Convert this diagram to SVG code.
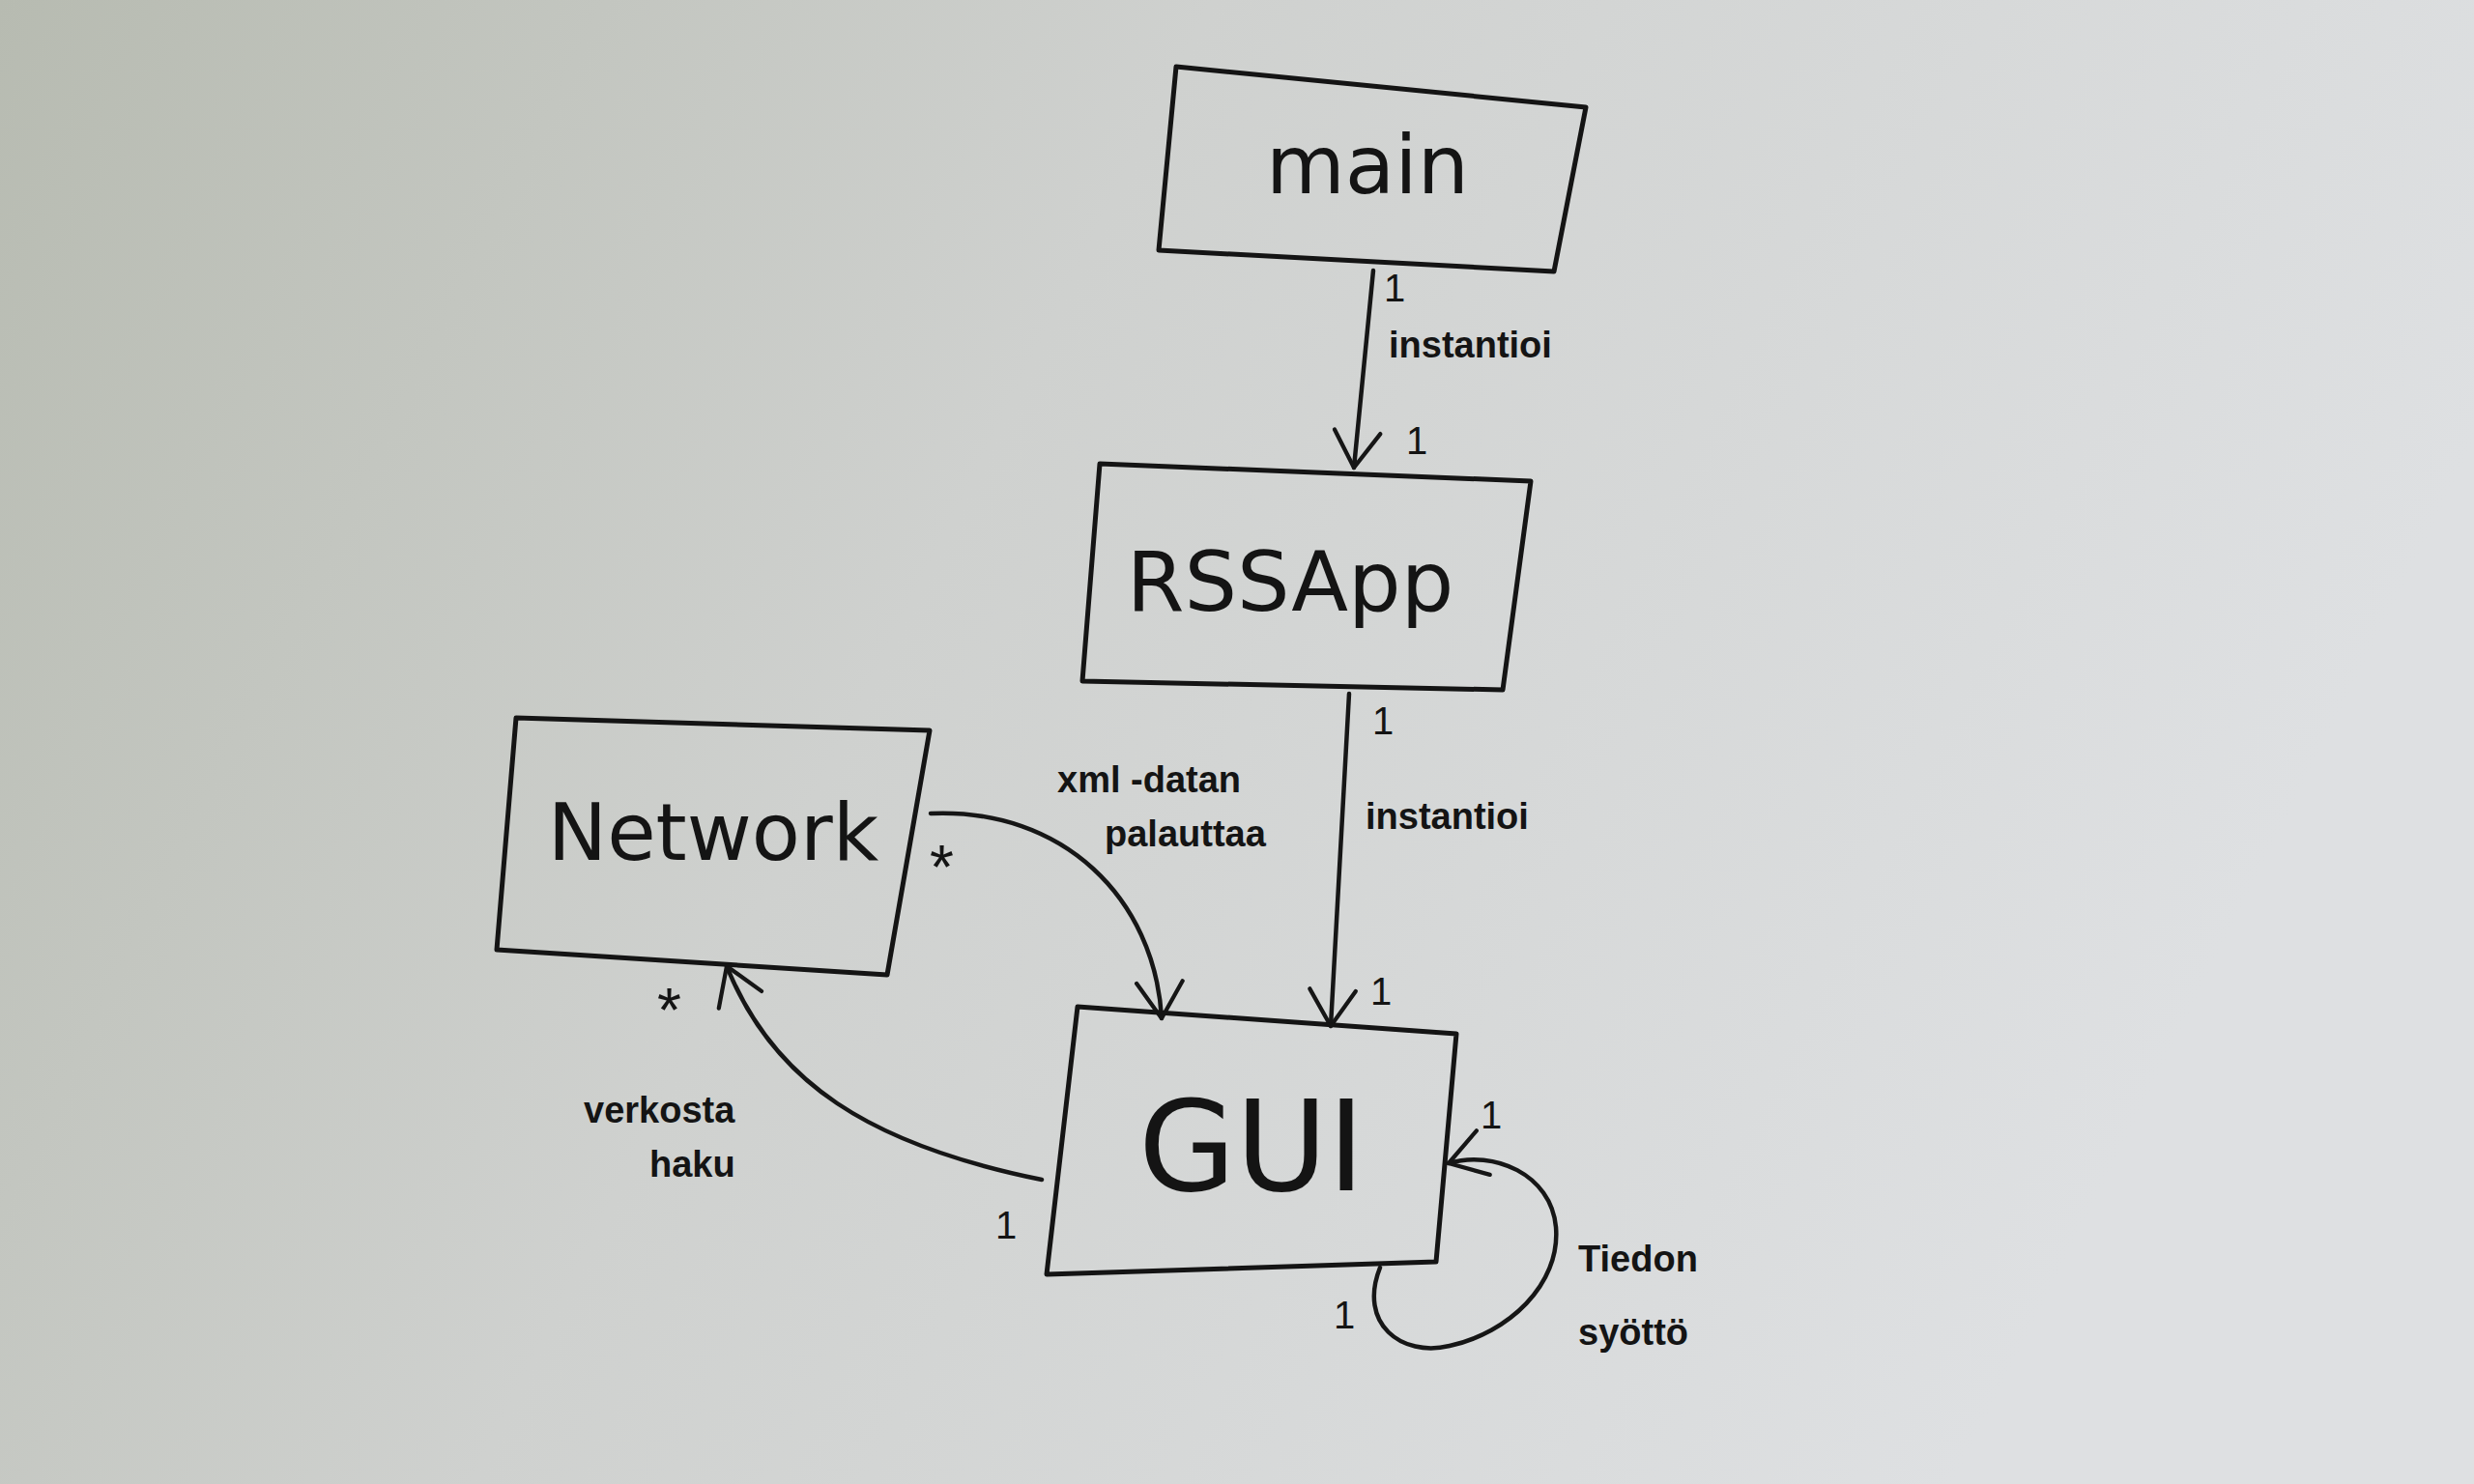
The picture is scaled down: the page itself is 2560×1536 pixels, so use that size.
<svg xmlns="http://www.w3.org/2000/svg" width="2560" height="1536" viewBox="0 0 2560 1536">
<defs>
<linearGradient id="paper" x1="0" y1="0" x2="1" y2="0.3">
<stop offset="0" stop-color="#b7bbb1"/>
<stop offset="0.45" stop-color="#cfd1cf"/>
<stop offset="1" stop-color="#dee0e2"/>
</linearGradient>
<marker id="open" viewBox="0 0 20 20" refX="18" refY="10" markerWidth="17" markerHeight="17" markerUnits="userSpaceOnUse" orient="auto" overflow="visible">
<path d="M -26 -18 L 18 10 L -26 38" fill="none" stroke="#161616" stroke-width="5" stroke-linecap="round" stroke-linejoin="round"/>
</marker>
<style>
.box{fill:none;stroke:#141414;stroke-width:5;stroke-linejoin:round}
.edge{fill:none;stroke:#161616;stroke-width:4.5;stroke-linecap:round}
.name{font-family:"DejaVu Sans","Liberation Sans",sans-serif;fill:#141414;text-anchor:middle}
.lbl{font-family:"Liberation Sans","DejaVu Sans",sans-serif;font-size:38px;font-weight:bold;fill:#141414}
.mult{font-family:"Liberation Sans","DejaVu Sans",sans-serif;font-size:40px;fill:#141414}
.star{font-family:"Liberation Sans","DejaVu Sans",sans-serif;font-size:64px;fill:#141414}
</style>
</defs>
<rect x="0" y="0" width="2560" height="1536" fill="url(#paper)"/>

<g id="connectors">
<g id="e-main-rssapp">
<path class="edge" d="M 1421 280 L 1401 484" marker-end="url(#open)"/>
<text class="mult" x="1432" y="312">1</text>
<text class="mult" x="1455" y="470">1</text>
<text class="lbl" x="1437" y="370">instantioi</text>
</g>
<g id="e-rssapp-gui">
<path class="edge" d="M 1396 718 L 1377 1062" marker-end="url(#open)"/>
<text class="mult" x="1420" y="760">1</text>
<text class="mult" x="1418" y="1040">1</text>
<text class="lbl" x="1413" y="858">instantioi</text>
</g>
<g id="e-network-gui">
<path class="edge" d="M 963 842 C 1100 836, 1195 930, 1202 1054" marker-end="url(#open)"/>
<text class="star" x="962" y="920">*</text>
<text class="lbl" x="1094" y="820">xml -datan</text>
<text class="lbl" x="1143" y="876">palauttaa</text>
</g>
<g id="e-gui-network">
<path class="edge" d="M 1078 1221 C 900 1185, 800 1120, 752 1000" marker-end="url(#open)"/>
<text class="star" x="680" y="1068">*</text>
<text class="mult" x="1030" y="1282">1</text>
<text class="lbl" x="604" y="1162">verkosta</text>
<text class="lbl" x="672" y="1218">haku</text>
</g>
<g id="e-gui-self">
<path class="edge" d="M 1428 1312 C 1405 1370, 1450 1405, 1500 1393 C 1560 1380, 1615 1330, 1610 1270 C 1605 1215, 1545 1190, 1499 1204" marker-end="url(#open)"/>
<text class="mult" x="1532" y="1168">1</text>
<text class="mult" x="1380" y="1375">1</text>
<text class="lbl" x="1633" y="1316">Tiedon</text>
<text class="lbl" x="1633" y="1392">syöttö</text>
</g>
</g>

<g id="node-main">
<polygon class="box" points="1217,69 1641,111 1608,281 1199,259"/>
<text class="name" x="1415" y="200" font-size="84">main</text>
</g>
<g id="node-rssapp">
<polygon class="box" points="1138,480 1584,498 1555,714 1120,705"/>
<text class="name" x="1335" y="632" font-size="86">RSSApp</text>
</g>
<g id="node-network">
<polygon class="box" points="534,743 962,756 918,1009 514,983"/>
<text class="name" x="738" y="890" font-size="82">Network</text>
</g>
<g id="node-gui">
<polygon class="box" points="1115,1042 1507,1070 1486,1306 1083,1319"/>
<text class="name" x="1295" y="1232" font-size="130">GUI</text>
</g>
</svg>
